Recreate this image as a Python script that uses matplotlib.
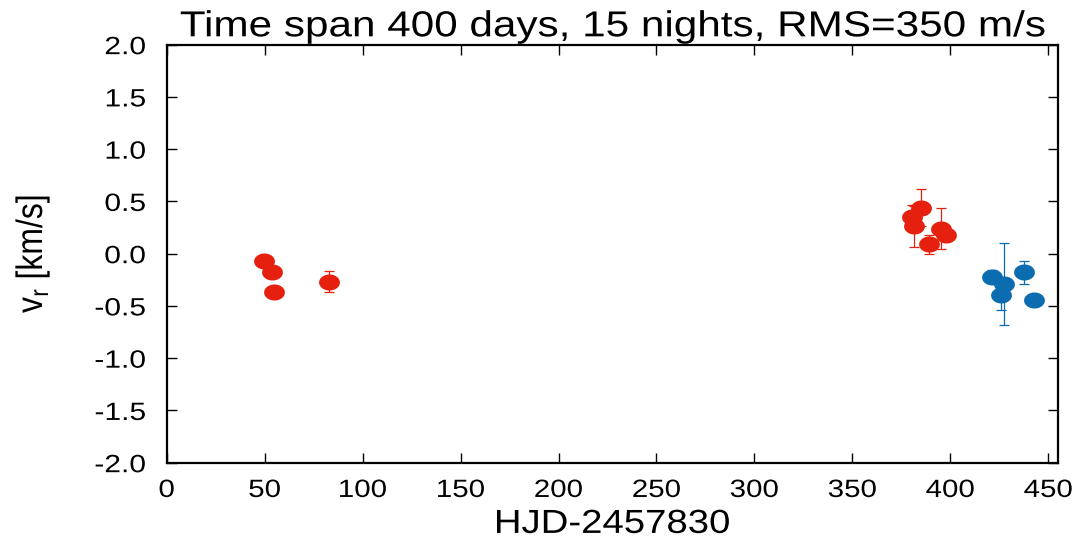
import numpy as np
import matplotlib
matplotlib.use("Agg")
import matplotlib.pyplot as plt
from matplotlib.path import Path
from matplotlib.patheffects import AbstractPathEffect
from matplotlib.transforms import Affine2D

plt.rcParams['font.family'] = ['Liberation Sans', 'DejaVu Sans']

# Radial velocities, first instrument (red)
t_red = [49.9, 53.9, 54.7, 82.7, 384.8, 380.6, 381.4, 395.0, 397.6, 389.0]
v_red = [-0.07, -0.18, -0.37, -0.27, 0.44, 0.35, 0.26, 0.24, 0.18, 0.09]
e_red = [0.03, 0.03, 0.03, 0.10, 0.18, 0.12, 0.20, 0.20, 0.05, 0.09]

# Radial velocities, second instrument (blue)
t_blue = [421.5, 427.4, 425.7, 437.6, 442.7]
v_blue = [-0.22, -0.29, -0.40, -0.18, -0.44]
e_blue = [0.06, 0.39, 0.14, 0.11, 0.02]

title = "Time span 400 days, 15 nights, RMS=350 m/s"
x_ticks = [0, 50, 100, 150, 200, 250, 300, 350, 400, 450]
y_ticks = [-2.0, -1.5, -1.0, -0.5, 0.0, 0.5, 1.0, 1.5, 2.0]

red = "#e5200f"
blue = "#0b6cb0"


class Stretch(AbstractPathEffect):
    """Widen text horizontally about a chosen anchor edge."""

    def __init__(self, sx, anchor="center"):
        super().__init__()
        self.sx = sx
        self.anchor = anchor

    def draw_path(self, renderer, gc, tpath, affine, rgbFace=None):
        ext = affine.transform_path(tpath).get_extents()
        x0 = {"center": 0.5 * (ext.x0 + ext.x1),
              "right": ext.x1, "left": ext.x0}[self.anchor]
        widen = Affine2D().translate(-x0, 0).scale(self.sx, 1).translate(x0, 0)
        renderer.draw_path(gc, tpath, affine + widen, rgbFace)


# slightly wide elliptical marker
th = np.linspace(0, 2 * np.pi, 60)
ellipse = Path(np.column_stack([np.cos(th), 0.77 * np.sin(th)]), closed=True)

fig = plt.figure(figsize=(10.72, 5.38), dpi=100)
ax = fig.add_axes([0.1555, 0.140, 0.8315, 0.777])

for t, v, e, c in [(t_red, v_red, e_red, red), (t_blue, v_blue, e_blue, blue)]:
    ax.errorbar(t, v, yerr=e, fmt='none', ecolor=c, elinewidth=0.9,
                capsize=3.5, capthick=0.9, zorder=2)
    ax.plot(t, v, linestyle='none', marker=ellipse, markersize=15,
            color=c, markeredgewidth=0, zorder=3)

ax.set_xlim(0, 455)
ax.set_ylim(-2.0, 2.0)
ax.set_xticks(x_ticks)
ax.set_yticks(y_ticks)
ax.set_yticklabels([f"{y:.1f}" for y in y_ticks])
ax.tick_params(direction='in', length=7.5, width=1, top=True, right=True,
               labelsize=18)
ax.tick_params(axis='x', pad=11)
ax.tick_params(axis='y', pad=15)
for s in ax.spines.values():
    s.set_linewidth(1.6)

for lab in ax.get_xticklabels():
    lab.set_path_effects([Stretch(1.18, "center")])
for lab in ax.get_yticklabels():
    lab.set_path_effects([Stretch(1.2, "right")])

xl = ax.set_xlabel("HJD-2457830", fontsize=24, labelpad=5)
xl.set_path_effects([Stretch(1.15, "center")])
yl = ax.set_ylabel(r"v$_\mathregular{r}$ [km/s]", fontsize=23)
ax.yaxis.set_label_coords(-0.131, 0.5)
yl.set_path_effects([Stretch(1.15, "center")])
tt = ax.set_title(title, fontsize=26, pad=6)
tt.set_path_effects([Stretch(1.17, "center")])

fig.savefig("out.png", dpi=100)
